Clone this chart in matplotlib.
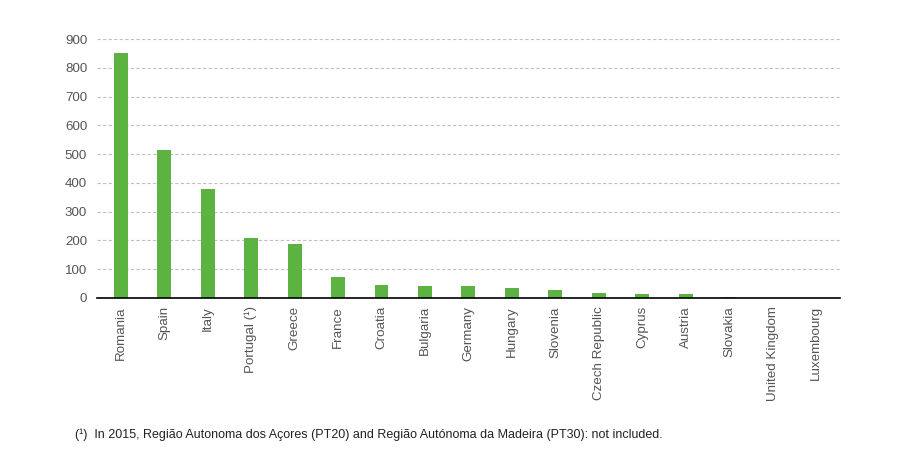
import matplotlib.pyplot as plt

countries = ["Romania", "Spain", "Italy", "Portugal (¹)", "Greece", "France",
             "Croatia", "Bulgaria", "Germany", "Hungary", "Slovenia",
             "Czech Republic", "Cyprus", "Austria", "Slovakia",
             "United Kingdom", "Luxembourg"]
values = [852, 515, 379, 209, 189, 73, 45, 43, 43, 35, 28, 17, 14, 14, 4, 0, 0]
yticks = [0, 100, 200, 300, 400, 500, 600, 700, 800, 900]

plt.rcParams["font.family"] = ["Liberation Sans", "DejaVu Sans"]

fig = plt.figure(figsize=(9.14, 4.59), dpi=100)
ax = fig.add_axes([0.106, 0.351, 0.813, 0.564])

x = range(len(countries))
ax.bar(x, values, width=0.32, color="#5db342", zorder=3)

ax.set_xlim(-0.55, len(countries) - 0.45)
ax.set_ylim(0, 900)
ax.set_yticks(yticks)
ax.set_xticks(list(x))
ax.set_xticklabels(countries, rotation=90, fontsize=9.6, color="#555555")
ax.tick_params(axis="y", labelsize=9.6, labelcolor="#555555", length=0, pad=7)
ax.tick_params(axis="x", length=0, pad=6)
ax.yaxis.grid(True, linestyle=(0, (3, 2)), color="#c0c0c0", linewidth=0.8)
ax.set_axisbelow(True)
for s in ["top", "right", "left"]:
    ax.spines[s].set_visible(False)
ax.spines["bottom"].set_color("black")
ax.spines["bottom"].set_linewidth(1.2)
ax.spines["bottom"].set_zorder(4)

fig.text(75 / 914, 1 - 435 / 459,
         "(¹)  In 2015, Região Autonoma dos Açores (PT20) and Região Autónoma da Madeira (PT30): not included.",
         fontsize=9, color="#222222", va="center")

fig.savefig("out.png", dpi=100)
